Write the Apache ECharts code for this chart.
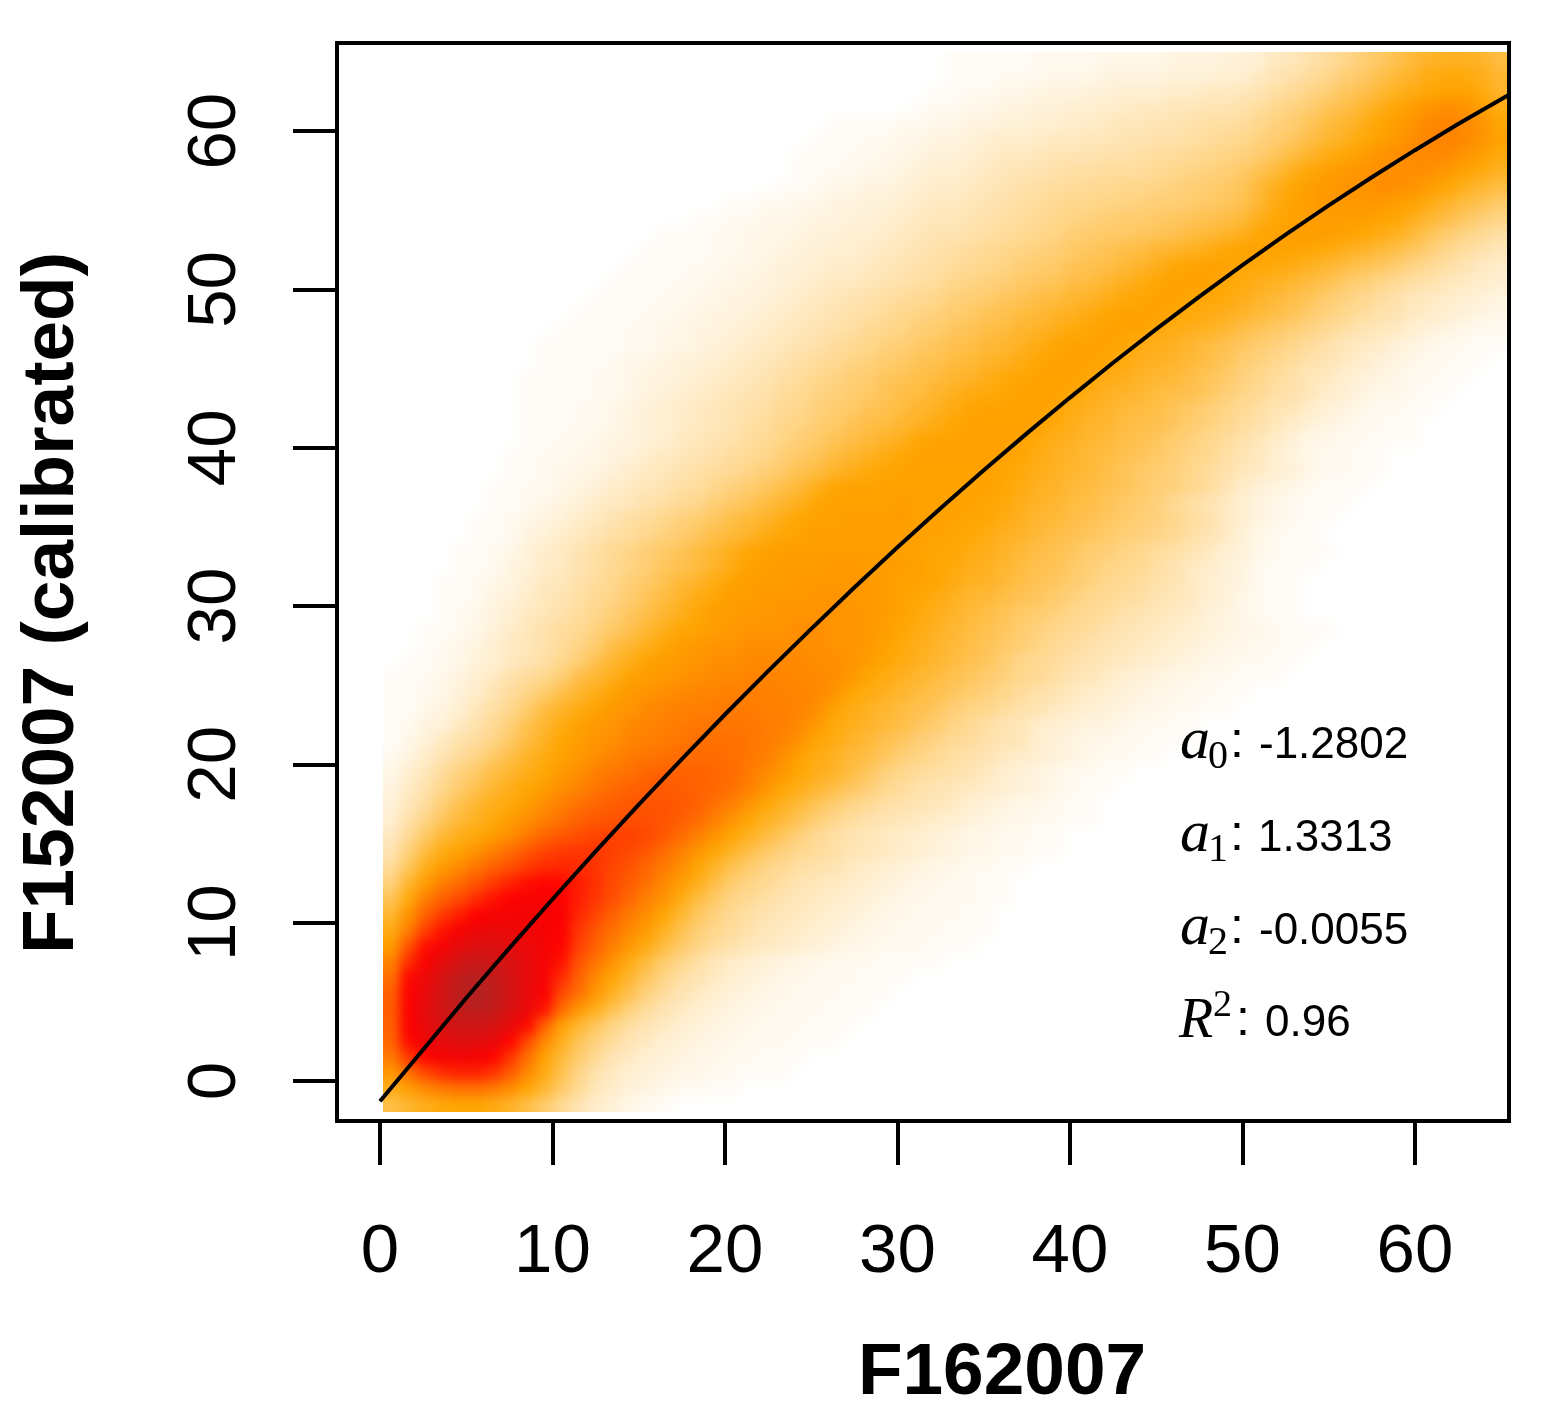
<!DOCTYPE html>
<html>
<head>
<meta charset="utf-8">
<title>F162007 vs F152007</title>
<style>
html, body { margin: 0; padding: 0; background: #fff; }
#chart { position: absolute; left: 0; top: 0; width: 1541px; height: 1423px; z-index: 2; }
/* density layer sits under the axes, softened like the resampled original */
#heatClip { position: absolute; left: 383px; top: 52px; width: 1124px; height: 1060px; overflow: hidden; z-index: 1; }
#heat { position: absolute; left: -17px; top: -16px; width: 1158px; height: 1092px; filter: blur(6px); }
</style>
<script src="https://cdn.jsdelivr.net/npm/echarts@6/dist/echarts.min.js"></script>
</head>
<body>
<div id="heatClip"><div id="heat"></div></div>
<div id="chart"></div>
<script>
// tick labels
var xTicks = [0, 10, 20, 30, 40, 50, 60];
var yTicks = [0, 10, 20, 30, 40, 50, 60];

// fitted curve
var curveX = [0, 2.5, 5, 7.5, 10, 12.5, 15, 17.5, 20, 22.5, 25, 27.5, 30, 32.5, 35, 37.5, 40, 42.5, 45, 47.5, 50, 52.5, 55, 57.5, 60, 62.5, 65.45];
var curveY = [-1.28, 1.97, 5.24, 8.39, 11.48, 14.5, 17.45, 20.33, 23.15, 25.89, 28.56, 31.17, 33.71, 36.18, 38.58, 40.91, 43.17, 45.37, 47.49, 49.55, 51.54, 53.46, 55.31, 57.09, 58.8, 60.45, 62.3];

// density cells, bottom row first. heatStart = first non white column of each row
var heatStart = [0,0,0,0,0,0,0,0,0,0,0,0,0,0,0,0,0,0,0,0,0,0,0,0,0,0,0,0,1,2,2,3,3,3,4,4,5,5,6,6,7,7,8,8,8,8,8,9,9,10,11,12,13,14,15,16,18,20,23,24,24,25,26,31,32,33,33];
var heatRows = [
[24,27,30,32,33,33,31,28,24,19,14,10,7,5,3,2,1],
[30,35,39,42,44,44,42,38,33,27,20,14,9,7,5,4,3,2,2,1,1],
[36,44,52,58,60,60,56,48,39,31,23,16,11,8,6,5,4,3,3,2,2,1,1,1],
[42,55,66,71,72,71,66,56,44,34,26,19,14,10,8,6,5,4,3,3,2,2,1,1,1],
[46,65,74,79,81,80,76,66,52,39,30,22,17,13,10,8,6,5,4,3,3,2,2,2,1,1,1],
[47,68,77,84,88,88,85,77,65,47,34,27,21,16,12,10,8,6,5,4,3,3,2,2,2,1,1,1],
[48,68,78,87,94,96,92,83,75,63,45,36,30,23,17,13,10,8,6,5,4,3,3,2,2,2,1,1,1],
[47,67,76,86,96,100,95,86,76,68,52,44,36,29,23,17,13,10,8,6,5,4,3,3,2,2,2,1,1,1],
[44,65,75,84,94,98,93,85,77,70,58,47,39,33,27,21,16,12,10,8,6,5,4,3,3,2,2,2,1,1,1],
[40,58,69,78,86,90,88,83,77,71,63,50,43,37,31,25,19,15,12,9,7,6,5,4,3,3,2,2,2,1,1,1,1],
[35,50,64,71,78,82,82,79,75,71,66,54,47,41,36,31,25,20,16,13,11,9,8,7,6,5,4,3,3,2,2,2,1,1,1],
[31,41,54,63,70,74,76,75,73,71,68,56,49,44,39,35,29,23,18,15,13,11,9,8,7,6,5,4,3,3,2,2,2,1,1,1],
[27,37,47,55,61,67,70,71,71,70,68,59,53,47,42,38,33,27,21,17,14,12,10,9,8,7,6,5,4,3,3,2,2,2,1,1],
[22,32,41,47,52,58,63,67,70,70,68,61,56,51,46,41,37,31,25,20,16,14,12,10,9,8,7,6,5,4,3,3,2,2,2,1,1],
[17,27,35,41,45,50,55,60,64,66,65,61,57,52,48,44,39,35,30,24,19,16,14,12,10,9,8,7,6,5,4,3,3,2,2,1,1],
[13,21,30,35,39,43,47,51,55,58,59,58,56,53,50,46,42,38,33,28,23,19,16,14,12,11,10,8,7,6,5,4,3,3,2,2,1,1],
[10,17,25,31,34,37,41,45,49,53,55,56,56,54,52,49,45,41,37,33,28,24,20,17,15,13,12,10,9,8,7,6,5,4,3,3,2,2,1,1],
[8,14,20,26,30,32,35,38,42,46,49,51,53,54,54,52,49,45,41,37,33,29,25,21,17,14,12,10,9,8,7,6,5,4,3,3,2,2,1,1],
[6,11,16,21,26,29,32,35,38,41,44,47,49,50,51,51,50,48,45,41,37,33,29,26,22,18,15,13,11,10,9,8,7,6,5,4,3,3,2,2,1,1],
[5,9,13,18,23,27,30,32,35,38,41,44,46,48,49,50,50,49,47,44,41,37,33,29,26,22,19,16,14,12,11,10,9,8,6,5,4,3,3,2,1,1],
[4,7,11,15,19,23,27,30,33,35,38,40,43,45,47,48,49,48,47,46,44,41,37,33,30,27,24,21,18,15,13,11,10,9,8,7,6,5,4,3,2,1,1],
[3,6,9,13,17,20,24,27,30,33,36,38,41,43,44,46,47,47,47,46,45,42,39,36,33,30,28,25,21,17,15,13,12,11,10,8,6,5,4,3,2,2,1,1],
[2,4,7,10,13,16,20,24,28,31,34,36,38,40,42,43,44,45,45,45,44,43,41,38,34,31,29,26,24,21,18,16,14,12,11,10,8,7,6,5,4,3,2,2,1,1],
[1,3,5,8,11,13,16,20,25,29,33,35,37,38,40,41,42,43,44,44,44,43,42,40,37,33,31,28,26,23,21,18,16,14,13,11,10,9,6,5,4,3,3,2,2,1,1,1],
[1,2,4,5,8,11,14,18,23,27,31,34,36,37,39,40,41,42,43,43,43,43,42,41,39,36,32,30,28,26,24,21,19,16,14,12,10,9,7,6,5,4,4,3,2,2,1,1],
[1,1,3,4,6,9,12,15,19,25,28,31,34,36,37,39,40,41,41,42,42,42,41,41,40,38,34,31,29,27,25,23,21,18,16,15,13,11,10,8,7,6,5,4,3,3,2,2,1,1],
[1,1,2,3,5,7,10,13,16,19,24,27,30,34,36,37,38,39,40,40,41,41,41,40,40,39,37,33,31,29,27,25,23,21,19,17,15,13,11,10,8,7,6,5,4,3,3,2,2,1,1],
[1,1,2,3,4,6,8,11,13,15,18,24,27,30,34,35,36,37,38,39,39,40,40,40,39,39,38,36,33,31,29,27,25,23,21,19,17,15,14,12,10,9,7,6,5,4,3,3,2,2,1,1,1],
[1,1,2,3,5,6,8,10,12,15,18,23,27,30,34,35,36,37,38,38,39,39,39,39,38,38,37,35,33,31,29,27,25,23,21,18,15,14,13,11,10,9,8,7,6,5,4,3,3,2,2,1,1],
[1,2,3,4,6,8,9,11,13,16,19,24,27,30,33,35,36,37,37,38,38,38,38,38,37,37,36,34,32,30,28,26,24,22,20,18,16,14,13,11,10,9,8,7,6,5,4,3,3,2,2,1,1],
[1,1,2,3,5,7,9,11,13,14,17,20,23,27,30,33,34,35,36,37,37,37,38,38,37,37,36,35,33,31,29,27,25,23,21,19,17,15,14,13,11,10,9,8,7,6,5,4,3,3,2,1,1,1],
[1,2,3,4,6,8,9,11,13,15,18,21,24,27,30,33,35,35,36,36,37,37,37,37,37,36,35,34,32,30,28,26,24,22,20,19,17,15,14,13,11,10,9,8,7,5,4,3,2,1,1],
[1,1,2,4,5,7,9,10,12,14,16,19,22,25,28,31,33,35,35,36,36,36,37,37,36,36,35,34,33,31,29,27,26,24,22,21,19,17,15,14,13,12,10,9,8,6,5,3,2,1,1],
[1,1,2,3,4,6,8,9,11,13,15,18,20,23,26,28,31,34,35,35,35,36,36,36,36,36,35,34,34,33,31,29,28,26,24,22,21,19,17,15,14,13,11,10,8,6,5,4,2,1,1],
[1,1,2,4,5,7,8,10,12,14,16,18,21,23,25,28,31,34,35,35,35,35,36,36,35,35,35,34,33,32,30,29,27,25,23,22,20,18,16,15,14,12,10,8,7,5,4,2,1,1,1],
[1,1,2,3,5,7,8,10,12,14,16,18,20,22,25,27,30,33,34,35,35,35,35,35,35,35,34,34,33,33,31,30,28,26,24,23,21,19,18,16,15,13,12,10,8,6,5,3,2,1,1,1],
[1,1,2,4,5,7,8,10,12,13,15,17,19,21,24,26,28,31,33,34,35,35,35,35,35,35,34,34,33,33,31,29,28,26,24,23,21,20,18,17,16,14,12,10,8,5,3,2,1,1],
[1,1,2,3,4,5,7,8,10,12,13,15,17,19,21,24,26,28,31,33,34,34,35,35,35,35,34,34,34,33,33,31,29,27,26,24,23,21,20,18,17,15,13,11,8,6,4,3,2,1,1],
[1,1,2,3,4,5,7,8,9,11,12,14,15,18,20,22,25,27,30,33,34,34,34,34,35,34,34,34,34,33,32,30,28,27,25,24,22,20,19,17,14,12,10,8,6,4,3,2,1,1,1],
[1,1,2,2,3,4,5,7,8,9,10,12,13,15,17,19,21,24,26,30,33,34,34,34,34,34,34,34,34,34,33,31,29,28,26,25,23,22,20,18,17,15,13,10,7,5,4,3,2,1,1,1],
[1,1,2,3,3,4,5,7,8,9,10,12,13,14,16,18,20,23,25,28,30,32,33,34,34,34,34,34,34,33,32,30,29,27,26,24,22,20,19,17,15,13,11,9,8,6,5,3,2,2,1,1],
[1,1,2,2,3,3,4,5,7,8,9,10,11,13,14,15,18,20,22,25,27,29,31,33,34,34,34,34,34,34,33,31,29,28,26,25,23,22,20,18,16,15,12,10,8,6,4,3,2,2,1,1],
[1,1,2,2,3,4,4,5,6,8,9,10,11,13,14,16,18,20,22,24,26,28,30,33,34,34,34,34,34,34,32,30,29,27,26,24,23,21,19,17,15,13,11,9,7,5,3,3,2,2,1,1,1],
[1,1,1,2,2,3,4,5,6,7,8,9,10,12,13,15,16,18,20,22,24,25,27,29,31,33,34,34,34,34,34,32,30,28,27,25,24,23,21,19,17,15,13,11,9,7,5,4,3,2,2,1,1],
[1,1,1,2,2,3,4,5,6,7,8,9,10,11,12,14,15,17,19,20,22,23,25,27,29,31,33,34,34,34,34,33,31,29,28,26,25,24,22,20,18,16,14,12,10,9,7,5,4,3,2,2,1,1],
[1,1,1,1,2,2,3,4,5,6,7,8,9,10,11,13,14,16,17,19,20,22,24,25,27,29,31,32,33,34,34,34,33,31,29,28,27,25,24,23,21,18,16,14,12,11,9,7,6,4,3,3,2,1,1],
[1,1,1,1,2,2,3,4,4,5,6,7,8,9,10,12,13,15,16,18,19,21,22,24,25,27,28,30,32,33,34,34,34,33,31,30,28,27,26,24,22,20,17,15,13,11,9,8,6,5,4,3,2,2,1,1],
[1,1,1,1,2,3,3,4,5,5,6,7,8,9,10,12,13,14,16,17,19,20,22,23,25,26,28,29,31,33,34,34,34,33,32,30,29,28,26,24,22,19,17,15,13,11,10,8,7,5,4,3,2,2,1,1],
[1,1,1,1,1,2,2,3,3,4,5,6,7,8,9,10,11,13,14,15,17,18,20,21,23,24,26,27,29,31,33,34,34,34,33,31,30,29,27,25,23,21,19,17,15,13,11,9,8,7,5,4,3,2,2,1,1],
[1,1,1,1,2,2,3,3,4,4,5,6,7,8,9,10,11,12,14,15,16,18,19,21,22,24,25,27,28,30,32,33,34,34,34,32,31,30,29,27,24,22,20,18,16,14,12,10,9,8,6,5,4,3,2,2],
[1,1,1,1,2,2,3,3,4,4,5,6,7,8,9,10,11,12,13,15,16,17,19,20,22,23,25,26,28,29,31,33,34,34,34,33,32,31,30,28,26,24,22,19,17,15,13,11,10,8,7,6,5,4,3],
[1,1,1,1,2,2,3,3,4,4,5,6,7,8,9,10,11,12,13,14,15,17,18,19,21,22,24,25,27,28,30,32,33,34,34,33,33,32,30,28,26,24,22,19,17,15,13,11,9,8,7,6,5,4],
[1,1,1,1,2,2,3,3,4,4,5,6,7,8,8,9,10,11,12,13,15,16,17,18,20,21,22,24,25,27,29,31,33,34,34,34,33,32,30,29,27,25,23,20,18,16,14,12,11,9,8,7,6],
[1,1,1,1,2,2,3,3,4,5,5,6,7,7,8,9,10,11,12,13,14,15,16,18,19,20,22,23,24,26,28,30,33,34,34,34,33,33,32,31,29,27,25,23,21,19,16,14,12,10,8,7],
[1,1,1,1,2,2,3,3,4,5,5,6,6,7,8,9,10,11,12,13,14,15,16,17,18,20,21,22,24,25,27,28,29,31,33,34,34,34,34,33,32,30,28,26,24,21,18,15,13,11,9],
[1,1,1,2,2,3,3,3,4,5,5,6,6,7,8,9,10,10,11,12,13,14,15,16,18,19,20,20,21,22,23,25,26,28,30,33,34,35,35,35,34,33,31,29,26,22,19,16,14,12],
[1,1,2,2,3,3,3,4,4,5,5,6,7,8,9,9,10,11,12,13,14,15,16,17,18,19,19,20,21,22,23,24,26,30,33,34,35,35,35,35,34,33,30,27,24,21,18,16],
[1,1,2,2,3,3,4,4,5,5,6,7,8,8,9,10,11,12,13,14,15,15,16,16,17,18,18,19,20,21,23,27,31,34,35,36,36,36,36,35,34,31,28,25,23,20],
[1,1,2,3,3,4,4,5,6,7,7,8,9,10,11,12,13,13,14,14,15,15,16,17,18,19,20,22,26,30,33,35,36,37,37,38,38,37,35,33,30,27,25],
[1,1,2,2,3,3,4,5,6,6,7,8,9,10,10,11,12,12,13,13,13,14,15,16,17,18,20,23,26,30,33,35,36,37,38,38,38,38,36,34,32,29],
[1,1,1,2,2,3,3,4,5,5,6,7,8,8,9,10,10,10,11,11,12,13,13,14,15,16,17,19,22,25,28,31,33,35,37,38,39,39,39,37,35,32],
[1,1,1,2,2,3,3,4,4,5,6,7,7,7,8,8,9,9,10,10,11,11,12,13,14,15,17,19,21,24,27,29,32,34,36,38,40,40,39,37,34],
[1,1,1,1,2,2,3,3,4,4,5,5,6,6,7,7,8,9,9,10,10,11,12,12,13,15,17,19,22,25,27,30,33,35,37,39,40,39,37,33],
[1,2,2,3,3,4,4,5,5,6,6,7,7,8,8,9,9,10,10,11,13,15,17,19,22,24,27,30,33,35,37,38,37,35,31],
[1,1,2,2,3,3,4,4,4,5,5,6,6,6,7,7,8,8,9,10,12,14,16,18,21,23,26,29,31,33,34,34,32,28],
[1,1,1,2,2,2,3,3,3,4,4,4,4,5,5,5,6,6,8,10,11,13,15,18,20,23,26,28,31,32,32,30,27],
[1,1,1,1,1,2,2,2,2,3,3,3,3,4,4,4,5,5,6,8,9,11,13,15,18,20,23,26,28,29,29,28,25]
];

var colCount = 66;
var rowCount = heatRows.length;

function cellValue(r, c) {
    var v = heatRows[r][c - heatStart[r]];
    return v === undefined ? 0 : v;
}

// one extra cell round the outside repeats the edge, so the softening does not fade at the clip
var heatData = [];
for (var r = -1; r <= rowCount; r++) {
    for (var c = -1; c <= colCount; c++) {
        var v = cellValue(Math.min(Math.max(r, 0), rowCount - 1), Math.min(Math.max(c, 0), colCount - 1));
        if (v > 0) heatData.push([c + 1, r + 1, v]);
    }
}
var xCells = [];
for (var i = 0; i < colCount + 2; i++) xCells.push(i);
var yCells = [];
for (var j = 0; j < rowCount + 2; j++) yCells.push(j);

var curveData = curveX.map(function (x, k) { return [x, curveY[k]]; });

// annotation pieces: text, left, middle, font size, kind
var sans = '"Liberation Sans", Arial, sans-serif';
var serif = '"Liberation Serif", serif';
var notes = [
    ['a', 1180, 742, 60, 'i'], ['0', 1208, 757, 40, 's'], [':', 1230, 743, 50, 't'], ['-1.2802', 1259, 746, 44, 't'],
    ['a', 1180, 835, 60, 'i'], ['1', 1208, 850, 40, 's'], [':', 1230, 836, 50, 't'], ['1.3313', 1258, 839, 44, 't'],
    ['a', 1180, 928, 60, 'i'], ['2', 1208, 943, 40, 's'], [':', 1230, 929, 50, 't'], ['-0.0055', 1259, 932, 44, 't'],
    ['R', 1179, 1022, 56, 'i'], ['2', 1213, 1006, 38, 's'], [':', 1236, 1021, 50, 't'], ['0.96', 1265, 1024, 44, 't']
];

var graphics = notes.map(function (n) {
    return {
        type: 'text', silent: true, x: n[1], y: n[2], z: 20,
        style: {
            text: n[0], fontSize: n[3], fill: '#000', align: 'left', verticalAlign: 'middle',
            fontStyle: n[4] === 'i' ? 'italic' : 'normal',
            fontFamily: n[4] === 't' ? sans : serif
        }
    };
});
graphics.push({
    type: 'text', silent: true, x: 1002, y: 1374, z: 20,
    style: { text: 'F162007', fontSize: 73, fontWeight: 'bold', fontFamily: sans, fill: '#000', align: 'center', verticalAlign: 'middle' }
});
graphics.push({
    type: 'text', silent: true, x: 53, y: 603, rotation: Math.PI / 2, z: 20,
    style: { text: 'F152007 (calibrated)', fontSize: 73, fontWeight: 'bold', fontFamily: sans, fill: '#000', align: 'center', verticalAlign: 'middle' }
});

// density layer
var heatChart = echarts.init(document.getElementById('heat'), null, { renderer: 'canvas' });
heatChart.setOption({
    animation: false,
    backgroundColor: '#fff',
    grid: { left: 0, top: 0, right: 0, bottom: 0 },
    xAxis: { type: 'category', data: xCells, show: false },
    yAxis: { type: 'category', data: yCells, show: false },
    visualMap: {
        show: false, min: 0, max: 100, dimension: 2,
        inRange: { color: ['#ffffff', '#ffa500', '#ff0000', '#b22222'] }
    },
    series: [{ type: 'heatmap', data: heatData, progressive: 0, silent: true }]
});

// axes, frame, curve and text
var myChart = echarts.init(document.getElementById('chart'), null, { renderer: 'canvas' });
myChart.setOption({
    animation: false,
    backgroundColor: 'transparent',
    grid: { left: 337, top: 43, width: 1172, height: 1078, show: true, borderColor: '#000', borderWidth: 4, backgroundColor: 'transparent' },
    xAxis: {
        type: 'value', min: -2.49, max: 65.45,
        splitLine: { show: false },
        axisLine: { show: true, onZero: false, lineStyle: { color: '#000', width: 4 } },
        axisTick: { show: true, length: 44, customValues: xTicks, lineStyle: { color: '#000', width: 4 } },
        axisLabel: { show: true, customValues: xTicks, margin: 97, fontSize: 69, color: '#000', fontFamily: sans }
    },
    yAxis: {
        type: 'value', min: -2.53, max: 65.57,
        splitLine: { show: false },
        axisLine: { show: true, onZero: false, lineStyle: { color: '#000', width: 4 } },
        axisTick: { show: true, length: 44, customValues: yTicks, lineStyle: { color: '#000', width: 4 } },
        axisLabel: { show: true, customValues: yTicks, rotate: 90, margin: 87, fontSize: 69, color: '#000', fontFamily: sans }
    },
    graphic: graphics,
    series: [{
        type: 'line', data: curveData, showSymbol: false, symbol: 'none', silent: true,
        lineStyle: { color: '#000', width: 4 }
    }]
});
</script>
</body>
</html>
